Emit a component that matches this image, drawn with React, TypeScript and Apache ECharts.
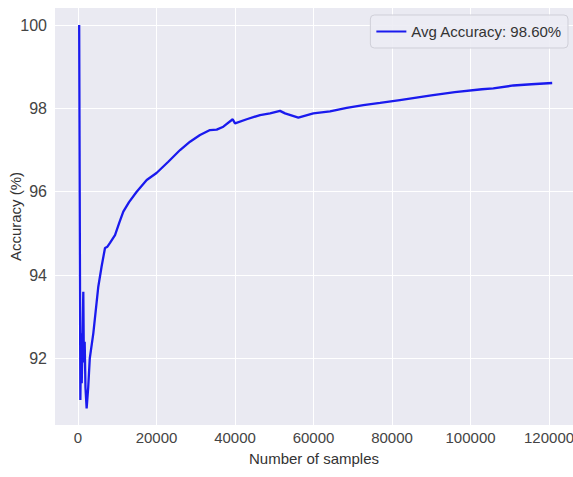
import React, { useEffect, useRef } from "react";
import * as echarts from "echarts";

const samples = [300, 600, 800, 950, 1100, 1350, 1500, 1700, 1900, 2200, 2600, 3000, 3900, 5170, 6000, 6880, 7500, 8150, 9430, 10500, 11540, 13000, 14950, 17500, 20000, 23000, 26000, 28540, 31080, 33630, 35330, 37020, 39410, 40000, 42980, 46370, 48920, 51460, 52740, 56130, 59950, 64200, 68450, 72700, 76940, 82000, 90000, 96000, 102900, 105800, 110900, 115500, 120800];
const accuracy = [100, 91.0, 92.6, 91.4, 92.2, 93.6, 91.9, 92.4, 91.3, 90.8, 91.3, 92.0, 92.6, 93.72, 94.2, 94.65, 94.68, 94.77, 94.96, 95.25, 95.52, 95.75, 96.0, 96.28, 96.45, 96.72, 97.0, 97.2, 97.36, 97.48, 97.49, 97.56, 97.74, 97.64, 97.74, 97.84, 97.88, 97.94, 97.88, 97.78, 97.88, 97.93, 98.01, 98.08, 98.13, 98.2, 98.31, 98.39, 98.46, 98.48, 98.55, 98.58, 98.61];
const xTicks = [0, 20000, 40000, 60000, 80000, 100000, 120000];
const yTicks = [92, 94, 96, 98, 100];
const legendLabel = "Avg Accuracy: 98.60%";

export default function App() {
  const ref = useRef<HTMLDivElement>(null);
  useEffect(() => {
    document.body.style.margin = "0";
    const chart = echarts.init(ref.current!, null, { renderer: "svg" });
    const font = "Liberation Sans, Arial, sans-serif";
    chart.setOption({
      animation: false,
      backgroundColor: "#ffffff",
      grid: {
        left: 55,
        right: 0,
        top: 8,
        bottom: 52,
        containLabel: false,
        outerBoundsMode: "none",
        show: true,
        backgroundColor: "#EAEAF2",
        borderWidth: 0,
      },
      legend: {
        right: 5,
        top: 15,
        orient: "horizontal",
        itemWidth: 30,
        itemHeight: 14,
        itemGap: 10,
        padding: [9, 6, 9, 6],
        backgroundColor: "rgba(236,236,244,0.9)",
        borderColor: "#cfcfd8",
        borderWidth: 1,
        borderRadius: 4,
        textStyle: { fontFamily: font, fontSize: 15, color: "#333" },
        data: [{ name: legendLabel, icon: "path://M0,6 L30,6 L30,8 L0,8 Z" }],
      },
      xAxis: {
        type: "value",
        min: -5860,
        max: 126100,
        name: "Number of samples",
        nameLocation: "middle",
        nameGap: 26,
        nameMoveOverlap: false,
        nameTextStyle: { fontFamily: font, fontSize: 15, color: "#333" },
        axisLine: { show: false },
        axisTick: { show: false, customValues: xTicks },
        axisLabel: {
          customValues: xTicks,
          formatter: (v: number) => String(v),
          fontFamily: font,
          fontSize: 15,
          color: "#444",
          margin: 5,
        },
        splitLine: { show: true, lineStyle: { color: "#ffffff", width: 1 } },
      },
      yAxis: {
        type: "value",
        min: 90.4,
        max: 100.41,
        name: "Accuracy (%)",
        nameLocation: "middle",
        nameGap: 32,
        nameMoveOverlap: false,
        nameTextStyle: { fontFamily: font, fontSize: 15, color: "#333" },
        axisLine: { show: false },
        axisTick: { show: false, customValues: yTicks },
        axisLabel: {
          customValues: yTicks,
          formatter: (v: number) => String(v),
          fontFamily: font,
          fontSize: 16,
          color: "#444",
          margin: 8,
        },
        splitLine: { show: true, lineStyle: { color: "#ffffff", width: 1 } },
      },
      series: [
        {
          name: legendLabel,
          type: "line",
          data: samples.map((s, i) => [s, accuracy[i]]),
          showSymbol: false,
          symbol: "none",
          lineStyle: { color: "#1a1aee", width: 2.3 },
          itemStyle: { color: "#1a1aee" },
        },
      ],
    });
    return () => chart.dispose();
  }, []);
  return <div ref={ref} style={{ width: 573, height: 477 }} />;
}
